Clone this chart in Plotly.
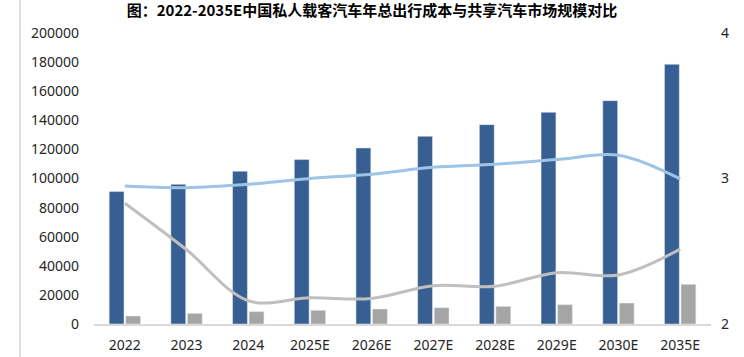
import plotly.graph_objects as go

categories = ["2022", "2023", "2024", "2025E", "2026E", "2027E", "2028E", "2029E", "2030E", "2035E"]
private_cost = [91000, 96000, 105000, 113000, 121000, 129000, 137000, 145500, 153500, 178500]
shared_market = [5500, 7300, 8500, 9400, 10300, 11200, 12100, 13300, 14400, 27300]
line_blue = [2.948, 2.937, 2.96, 3.00, 3.03, 3.077, 3.098, 3.13, 3.16, 2.997]
line_gray = [2.83, 2.51, 2.16, 2.18, 2.176, 2.263, 2.26, 2.353, 2.337, 2.515]

title_text = "图：2022-2035E中国私人载客汽车年总出行成本与共享汽车市场规模对比"
font_family = "Noto Sans, Noto Sans CJK SC, sans-serif"

fig = go.Figure()
fig.add_trace(go.Bar(x=categories, y=private_cost, marker_color="#375f92", name="私人载客汽车"))
fig.add_trace(go.Bar(x=categories, y=shared_market, marker_color="#a5a5a5", name="共享汽车"))
fig.add_trace(go.Scatter(x=categories, y=line_blue, yaxis="y2", mode="lines",
                         line=dict(color="#9dc3e6", width=3, shape="spline", smoothing=1)))
fig.add_trace(go.Scatter(x=categories, y=line_gray, yaxis="y2", mode="lines",
                         line=dict(color="#bfbfbf", width=3, shape="spline", smoothing=1)))

fig.update_layout(
    width=744, height=357,
    margin=dict(l=94, r=33, t=33, b=33),
    paper_bgcolor="white", plot_bgcolor="white",
    showlegend=False,
    barmode="group", bargap=0.465, bargroupgap=0.1,
    font=dict(family=font_family, size=14, color="#262626"),
    title=dict(text=title_text, x=0.5, xanchor="center", y=0.97, yanchor="middle",
               xref="container", yref="container",
               font=dict(family="Noto Sans CJK SC, sans-serif", size=15, color="#000000", weight="bold")),
    xaxis=dict(showline=True, linecolor="#d9d9d9", linewidth=1.5, ticks="", showgrid=False,
               ticklabelstandoff=7, automargin=False, tickfont=dict(size=14)),
    yaxis=dict(range=[0, 200000], dtick=20000, showgrid=False, zeroline=False, ticks="",
               ticklabelstandoff=14, tickformat="d", automargin=False, tickfont=dict(size=14)),
    yaxis2=dict(range=[2, 4], dtick=1, overlaying="y", side="right", showgrid=False,
                zeroline=False, ticks="", ticklabelstandoff=9, automargin=False, tickfont=dict(size=14)),
    shapes=[dict(type="line", xref="paper", yref="paper", x0=-0.12, x1=-0.12, y0=-0.12, y1=1.12,
                 line=dict(color="#bfbfbf", width=1))],
)

fig.write_html("out.html", config={"displayModeBar": False},
               post_script="document.body.style.margin='0';document.body.style.overflow='hidden';")
